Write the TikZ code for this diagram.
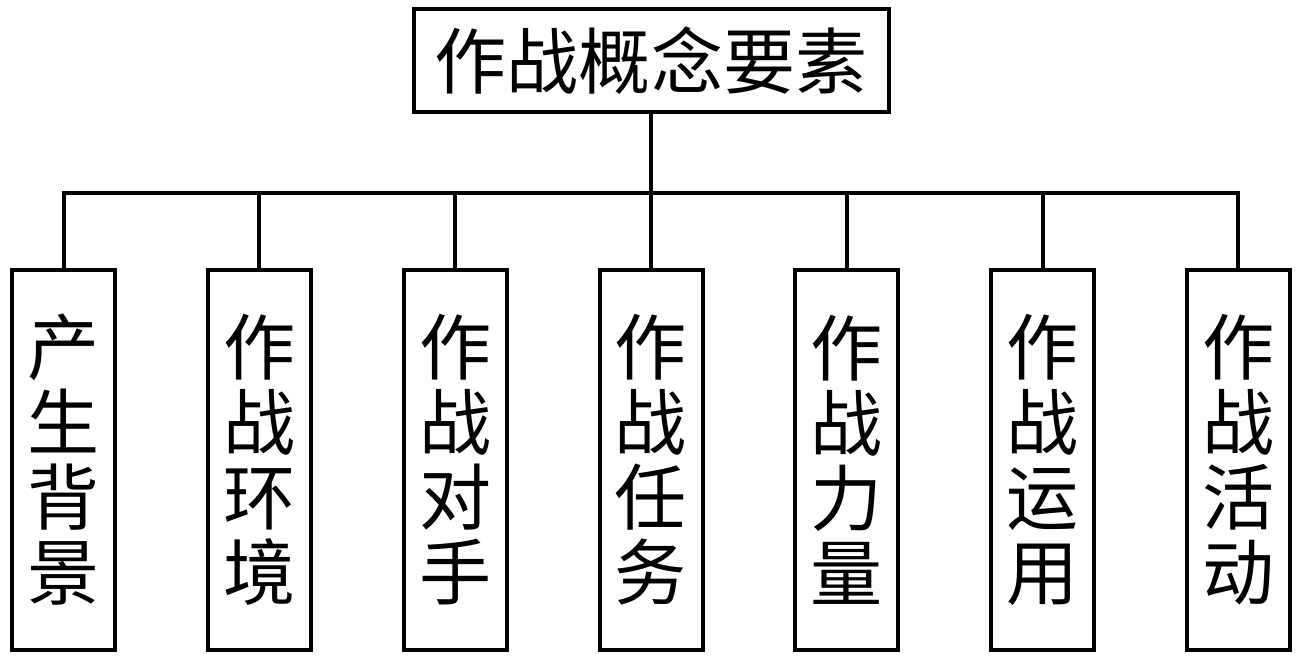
\documentclass[tikz,border=0pt]{standalone}
\usepackage{fontspec}
\newfontfamily\cjk{Noto Sans CJK SC}
\usepackage{tikz}

\begin{document}
\begin{tikzpicture}[level distance=7.99cm, sibling distance=3.916cm, grow=down,
    every node/.style={draw, line width=0.08cm, inner sep=0pt, align=center,
        font=\cjk\fontsize{41}{42.7}\selectfont},
    rootbox/.style={minimum width=9.5cm, minimum height=2.06cm},
    partbox/.style={minimum width=2.06cm, minimum height=7.6cm},
    edge from parent/.style={draw, line width=0.08cm},
    edge from parent path={(\tikzparentnode.south) -- ++(0,-1.58) -| (\tikzchildnode.north)}
]
\useasboundingbox (0,0) rectangle (25.98,-13.18);
      \node[rootbox] (G) at (13.02,-1.21) {作战概念要素}
      child {node[partbox] (bg) {产\\生\\背\\景}}
      child {node[partbox] (env) {作\\战\\环\\境}}
      child {node[partbox] (opp) {作\\战\\对\\手}}
      child {node[partbox] (task) {作\\战\\任\\务}}
      child {node[partbox] (force) {作\\战\\力\\量}}
      child {node[partbox] (use) {作\\战\\运\\用}}
      child {node[partbox] (act) {作\\战\\活\\动}};
  \end{tikzpicture}
\end{document}
